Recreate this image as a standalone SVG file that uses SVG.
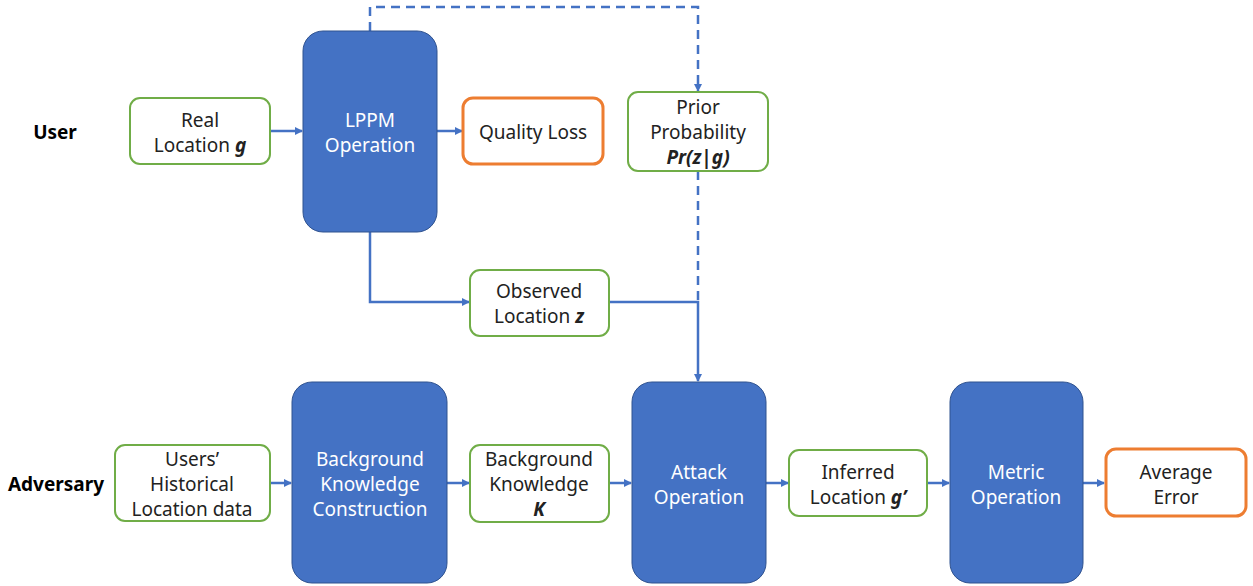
<svg xmlns="http://www.w3.org/2000/svg" width="1253" height="586" viewBox="0 0 1253 586">
<style>
.g{fill:#fff;stroke:#70AD47;stroke-width:2}
.o{fill:#fff;stroke:#ED7D31;stroke-width:3}
.b{fill:#4472C4;stroke:#2F528F;stroke-width:1}
text{font-family:"Noto Sans","Open Sans",sans-serif;font-size:19px;text-anchor:middle}
.w{fill:#fff}
.k{fill:#222}
.lbl{font-weight:bold;font-size:19px;fill:#000}
.c{fill:none;stroke:#4472C4;stroke-width:2.5}
.d{fill:none;stroke:#4472C4;stroke-width:2.5;stroke-dasharray:9 6}
</style>
<defs>
<marker id="a" markerWidth="8" markerHeight="8" refX="7" refY="4" orient="auto" markerUnits="userSpaceOnUse" viewBox="0 0 8 8">
<path d="M0,0 L8,4 L0,8 z" fill="#4472C4"/>
</marker>
</defs>
<text class="lbl" x="55" y="139">User</text>
<text class="lbl" x="56" y="491">Adversary</text>
<g id="connectors">
<path class="c" d="M270,131 L302,131" marker-end="url(#a)"/>
<path class="c" d="M437,131 L462,131" marker-end="url(#a)"/>
<path class="d" d="M370,31 L370,7 L698,7 L698,91" marker-end="url(#a)"/>
<path class="d" d="M698,171 L698,302"/>
<path class="c" d="M609,302 L698,302 L698,381" marker-end="url(#a)"/>
<path class="c" d="M370,232 L370,302 L469,302" marker-end="url(#a)"/>
<path class="c" d="M270,483 L291,483" marker-end="url(#a)"/>
<path class="c" d="M447,483 L469,483" marker-end="url(#a)"/>
<path class="c" d="M609,483 L631,483" marker-end="url(#a)"/>
<path class="c" d="M766,483 L788,483" marker-end="url(#a)"/>
<path class="c" d="M927,483 L949,483" marker-end="url(#a)"/>
<path class="c" d="M1083,483 L1104,483" marker-end="url(#a)"/>
</g>
<g id="real">
<rect class="g" x="130" y="98" width="140" height="66" rx="10"/>
<text class="k" x="200" y="127">Real</text>
<text class="k" x="200" y="152">Location <tspan font-style="italic" font-weight="bold">g</tspan></text>
</g>
<g id="lppm">
<rect class="b" x="303" y="31" width="134" height="201" rx="20"/>
<text class="w" x="370" y="127">LPPM</text>
<text class="w" x="370" y="152">Operation</text>
</g>
<g id="quality">
<rect class="o" x="463" y="98" width="140" height="66" rx="10"/>
<text class="k" x="533" y="139">Quality Loss</text>
</g>
<g id="prior">
<rect class="g" x="628" y="92" width="140" height="79" rx="10"/>
<text class="k" x="698" y="114">Prior</text>
<text class="k" x="698" y="139">Probability</text>
<text class="k" x="698" y="164" font-style="italic" font-weight="bold">Pr(z|g)</text>
</g>
<g id="observed">
<rect class="g" x="470" y="270" width="139" height="66" rx="10"/>
<text class="k" x="539" y="298">Observed</text>
<text class="k" x="539" y="323">Location <tspan font-style="italic" font-weight="bold">z</tspan></text>
</g>
<g id="users">
<rect class="g" x="115" y="445" width="155" height="76" rx="10"/>
<text class="k" x="192" y="466">Users’</text>
<text class="k" x="192" y="491">Historical</text>
<text class="k" x="192" y="516">Location data</text>
</g>
<g id="bkc">
<rect class="b" x="292" y="382" width="155" height="201" rx="20"/>
<text class="w" x="370" y="466">Background</text>
<text class="w" x="370" y="491">Knowledge</text>
<text class="w" x="370" y="516">Construction</text>
</g>
<g id="bk">
<rect class="g" x="470" y="445" width="139" height="77" rx="10"/>
<text class="k" x="539" y="466">Background</text>
<text class="k" x="539" y="491">Knowledge</text>
<text class="k" x="539" y="516" font-style="italic" font-weight="bold">K</text>
</g>
<g id="attack">
<rect class="b" x="632" y="382" width="134" height="201" rx="20"/>
<text class="w" x="699" y="479">Attack</text>
<text class="w" x="699" y="504">Operation</text>
</g>
<g id="inferred">
<rect class="g" x="789" y="450" width="138" height="66" rx="10"/>
<text class="k" x="858" y="479">Inferred</text>
<text class="k" x="858" y="504">Location <tspan font-style="italic" font-weight="bold">g’</tspan></text>
</g>
<g id="metric">
<rect class="b" x="950" y="382" width="133" height="201" rx="20"/>
<text class="w" x="1016" y="479">Metric</text>
<text class="w" x="1016" y="504">Operation</text>
</g>
<g id="avg">
<rect class="o" x="1106" y="449" width="140" height="67" rx="10"/>
<text class="k" x="1176" y="479">Average</text>
<text class="k" x="1176" y="504">Error</text>
</g>
</svg>
